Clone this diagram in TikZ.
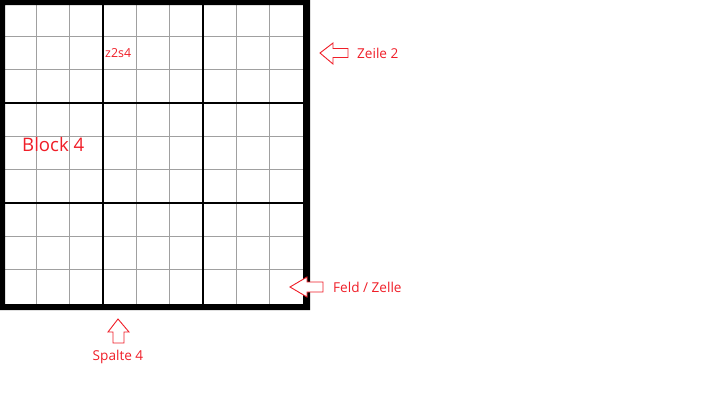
\documentclass[tikz,border=0pt]{standalone}
\usepackage{fontspec}
\setmainfont{Open Sans}
\definecolor{lblred}{RGB}{240,30,40}
\definecolor{gridgray}{RGB}{160,160,160}
\begin{document}
\begin{tikzpicture}[x=1pt,y=-1pt,
  thin/.style={draw=gridgray,line width=1.2pt},
  blockline/.style={draw=black,line width=2pt},
  hollowarrow/.style={draw=lblred,line width=0.9pt,fill=white,line join=miter},
  lbl/.style={text=lblred,inner sep=0pt,font=\fontsize{13.6}{16}\selectfont}]
\useasboundingbox (0,0) rectangle (713,410);
\fill[white] (0,0) rectangle (713,410);
% thin grid lines
\foreach \k in {1,2,4,5,7,8}{
  \draw[thin] ({3+33.333*\k},5) -- ({3+33.333*\k},304);
  \draw[thin] (5,{3+33.333*\k}) -- (303,{3+33.333*\k});
}
% block lines
\foreach \k in {3,6}{
  \draw[blockline] ({3+33.333*\k},5) -- ({3+33.333*\k},304);
  \draw[blockline] (5,{3+33.333*\k}) -- (303,{3+33.333*\k});
}
% outer frame
\fill[black,even odd rule] (0,0) rectangle (310,310) (5,5) rectangle (303,304);
% labels inside
\node[lbl,anchor=west,font=\fontsize{12.4}{14}\selectfont] (cell) at (105,53) {z2s4};
\node[lbl,anchor=west,font=\fontsize{18.6}{22}\selectfont] (block) at (22,145) {Block 4};
% arrows
\draw[hollowarrow] (320,53) -- (333,43) -- (333,48.5) -- (348,48.5) -- (348,57.5) -- (333,57.5) -- (333,64) -- cycle;
\draw[hollowarrow] (290,287) -- (307,277) -- (307,282) -- (323,282) -- (323,292) -- (307,292) -- (307,297) -- cycle;
\draw[hollowarrow] (118,319) -- (129,332) -- (124,332) -- (124,343) -- (113,343) -- (113,332) -- (108,332) -- cycle;
\coordinate (zeiletail) at (348,53);
\coordinate (feldtail) at (323,287);
\coordinate (spaltetail) at (118,343);
\node[lbl,anchor=west] (zeile) at ([xshift=9pt]zeiletail) {Zeile 2};
\node[lbl,anchor=west] (feld) at ([xshift=10pt]feldtail) {Feld / Zelle};
\node[lbl,anchor=north] (spalte) at ([yshift=-7pt]spaltetail) {Spalte 4};
\end{tikzpicture}
\end{document}
